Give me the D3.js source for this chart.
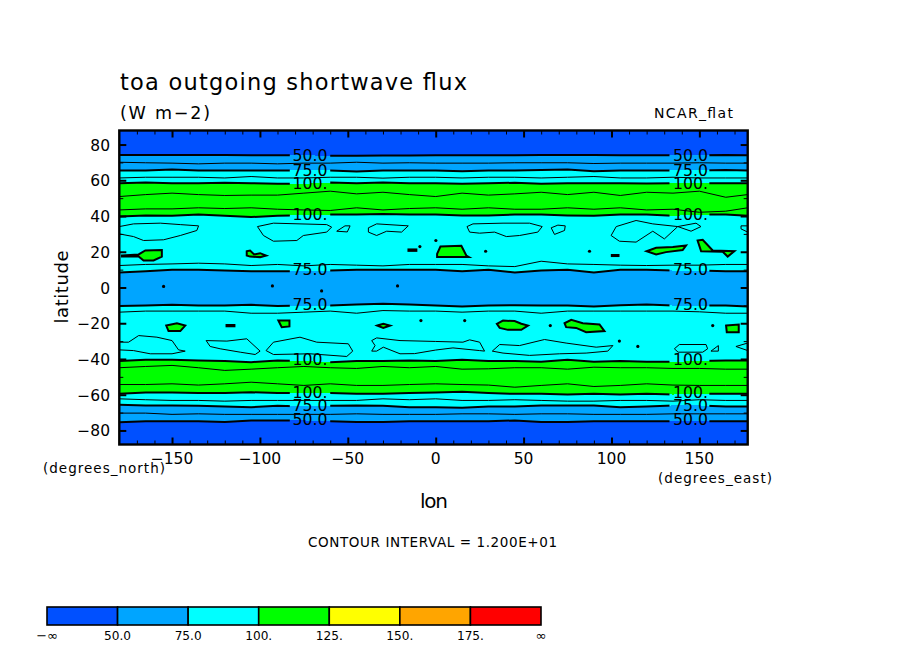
<!DOCTYPE html>
<html>
<head>
<meta charset="utf-8">
<script src="https://cdn.jsdelivr.net/npm/d3@7"></script>
<style>
  html, body { margin: 0; padding: 0; background: #fff; }
  text { font-family: "DejaVu Sans", sans-serif; fill: #000; }
</style>
</head>
<body>
<div id="chart"></div>
<script>
// Longitudes the latitude of every contour line is read at
const lonGrid = [-180,-165,-150,-135,-120,-105,-90,-75,-60,-45,-30,-15,0,15,30,45,60,75,90,105,120,135,150,165,177.5];

// Band contours (thick), north to south
const north50  = [74.2,74.2,74.2,74.2,74.2,74,74,74,73.7,73.7,73.8,73.8,74,74,74,74,74.2,74.2,74.2,74,74,74,74,74.2,74];
const north75  = [65.5,65.5,66,65.5,65.5,65.5,65.5,65.5,65.5,64.9,65.5,65.5,65.5,65.1,65.5,65.5,65.8,66,65.1,65.5,65.5,65.5,65.5,65.8,65.5];
const north100 = [58.4,58.7,58.4,58.4,58.6,58.4,58,58,58.7,58.4,58.7,58.4,58.4,58,58.4,58.6,58,58.4,58.4,58.4,58.2,58.4,58.4,58.4,58.4];
const mid100n  = [39.7,40.3,40.1,40.8,40.1,39.4,40.1,40.5,40.8,40.8,41.2,40.8,40.8,40.3,40.3,40.8,40.8,40.3,40.1,40.8,40.8,40.1,40.8,40.8,40.1];
const mid75n   = [8.4,9.1,9.9,9.9,9.5,9.1,9.1,9.1,9.5,9.9,9.9,9.9,9.9,9.1,9.9,8.4,9.5,9.9,8.4,9.9,9.9,9.5,9.5,9.1,9.1];
const mid75s   = [-10.4,-10.1,-9.7,-10.1,-10.1,-9.7,-10.4,-10.1,-10.1,-9.5,-9.1,-9.5,-10.1,-10.6,-10.1,-9.9,-10.1,-10.1,-10.6,-9.9,-9.5,-10.1,-10.1,-10.1,-10.6];
const mid100s  = [-41.2,-40.5,-40.5,-40.8,-41.2,-41.8,-40.8,-41.2,-41.8,-41.2,-41.2,-40.8,-41.2,-40.5,-41.2,-41.2,-41.6,-40.5,-41.6,-41.2,-41.6,-41.6,-41.2,-40.8,-40.8];
const south100 = [-59.5,-58.8,-58.8,-59.1,-59.1,-58.6,-59.1,-59.1,-59.1,-59.5,-59.5,-59.1,-58.8,-58.4,-59.1,-59.5,-59.5,-59.9,-59.5,-59.9,-59.5,-59.9,-59.5,-59.5,-59.5];
const south75  = [-65.6,-66,-66,-66.2,-66.6,-67,-66.2,-66.6,-66.2,-66,-66.2,-67,-67,-67.3,-66.6,-66.6,-66,-66,-66,-67,-66.6,-66,-66,-66.6,-66.6];
const south50  = [-75.4,-74.8,-74.8,-74.8,-75.2,-74.4,-74.4,-74.4,-74.8,-75.2,-75.2,-74.8,-74.8,-74.8,-74.8,-74.4,-75.2,-75.2,-74.8,-74.8,-74.8,-74.8,-74.8,-74.8,-74.8];

// Intermediate contours (thin)
const north62  = [70.1,69.8,69.6,69.2,69.6,69.6,69.2,69.6,69.6,70.1,69.6,69.8,69.6,69.6,69.6,69.8,69.8,69.8,69.4,69.6,69.6,69.6,69.8,69.6,69.6];
const north87  = [61.3,61.7,61.7,61.7,61.3,62.1,61.3,61.3,61.7,61.7,61.2,61.7,61.7,61.3,61.7,61.7,61.3,61.7,62.1,61.3,61.3,61.7,61.3,61.3,61.3];
const north112 = [50.9,52,52.8,52,51.5,51.7,51.7,52.8,53.9,52.4,53.3,52,50.9,52.8,51.7,52.4,53.3,52,53.3,51.5,53.3,52.8,53.9,50.5,52];
const mid112n  = [43.4,44,44,44.6,44.2,44.6,43.8,43.4,43.1,44.6,43.4,44.2,44.6,43.8,44.6,43.8,43.8,44.6,43.8,44.6,43.4,43.8,42.1,42.7,44.6];
const mid87n   = [12.3,12.9,13.2,13.6,13.2,12.3,12.9,12.1,12.9,12.5,12.1,12.9,12.9,12.9,12.1,11.7,14.7,13.2,12.9,12.5,12.3,12.5,12.5,12.9,12.9];
const mid87s   = [-13.8,-13.2,-13.2,-13.2,-13.2,-14.4,-14.4,-13.8,-13.2,-14.4,-12.9,-13.2,-13.2,-13.8,-13.2,-13.2,-14.4,-13.2,-13.2,-13.2,-13.2,-13.2,-13.6,-14.4,-14.4];
const mid112s  = [-44.9,-44.2,-43.6,-44.9,-46.4,-45.7,-44.9,-44.2,-44.9,-45.3,-44.2,-44.9,-44.2,-45.7,-45.5,-44.9,-44.9,-45.7,-44.6,-44.9,-44.9,-45.3,-45.3,-45.7,-45.7];
const south112 = [-54.3,-54.3,-53.9,-54.6,-53.9,-53,-53.9,-54.8,-53.9,-54.8,-54.8,-54.3,-53.9,-54.3,-54.6,-55.8,-54.8,-53.9,-55.4,-54.8,-53.9,-54.6,-54.8,-54.8,-54.8];
const south87  = [-62.3,-62.8,-63.2,-63.2,-63.6,-63.2,-63.2,-63.2,-63.2,-63.2,-62.3,-62.8,-62.3,-63.2,-63.2,-62.8,-63.2,-63.6,-63.6,-63.2,-63.2,-63.6,-62.8,-63.2,-63.2];
const south62  = [-70.3,-70.3,-71,-70.7,-71,-71,-71,-71,-71,-70.7,-71,-71,-71,-70.7,-70.7,-71,-70.7,-70.7,-71,-71,-71,-70.7,-70.7,-70.7,-70.7];

// Green closed areas above 100, as [lon, lat] rings
const greenIslands = [
  [[-178.5,17.9],[-169,18.5],[-165.2,20.7],[-155.8,21],[-155.8,17.3],[-160.5,15.1],[-166.2,15.1],[-169,17.3],[-178.5,17.3]],
  [[-107.5,20.3],[-105.6,20.7],[-103.3,18.5],[-99.9,19.2],[-96.5,17.9],[-99.9,17],[-105.6,17.3],[-107.5,17.9]],
  [[0.8,18.8],[2.7,22.9],[14.6,23.3],[17.4,17.9],[18.9,17],[0.8,17]],
  [[120,20.3],[125.4,22.2],[134.9,22.6],[142.4,23.5],[140.5,21],[131,19.8],[125.4,18.5]],
  [[149,26.3],[151.9,26.7],[157.6,20.7],[169.9,20.3],[166.1,17.3],[163.3,20],[151,20.3]],
  [[-153.3,-21.3],[-147.2,-20],[-142.5,-21.3],[-145.3,-24.4],[-152,-24.4]],
  [[-89.5,-18.5],[-83.2,-18.5],[-83.2,-21.8],[-87.6,-22.2]],
  [[-33.2,-21.3],[-29.8,-20.3],[-26,-21.3],[-29.8,-22.6]],
  [[34.8,-20.3],[38.3,-18.5],[44.9,-18.8],[48.7,-20.3],[52.5,-21.3],[48.7,-23.7],[41.1,-23.7],[36.4,-22.6]],
  [[73.3,-20],[77.1,-18.1],[83.7,-20],[93.2,-20.7],[96,-24.4],[85.6,-25],[79.9,-22.6],[74.2,-22.2]],
  [[165.2,-21.3],[172.4,-20.7],[172.4,-25],[165.6,-25]]
];

// Elongated spots too small to show any fill
const blackBlobs = [
  [[-15.5,21.3],[-11,21.3],[-11,20.5],[-15.5,20.5]],
  [[100.2,18.2],[104,18.2],[104,17.6],[100.2,17.6]],
  [[-119,-21],[-114.5,-21],[-114.5,-21.7],[-119,-21.7]]
];

// Thin closed contours
const thinRings = [
  [[-180,34.1],[-171.9,35.6],[-156.7,36],[-145.3,35.2],[-134.9,34.5],[-135.9,31.9],[-145.3,29.1],[-154.8,26.7],[-166.2,26.3],[-171.9,28.5],[-180,30]],
  [[-101.4,34.1],[-92.3,36],[-77.2,35.6],[-62,35.2],[-59.2,33.8],[-62,31],[-75.3,29.1],[-79,26.3],[-92.3,25.9],[-98,29.1]],
  [[-56.3,31.5],[-51.6,34.5],[-48.7,34.5],[-50.3,31.1]],
  [[-38.3,33.4],[-33.6,35.6],[-15.6,34.5],[-19.4,31],[-27.9,31.5],[-33.6,29.1],[-38.3,31]],
  [[17.8,34.1],[21.2,35.6],[38.3,36],[53.4,36],[60.6,34.1],[58.1,31],[47.7,29.1],[40.2,28.5],[33.5,31],[25,30.4],[19.3,31]],
  [[65.7,33.4],[69.5,34.9],[73.7,34.5],[73.3,31.9],[67.6,29.7]],
  [[99.8,29.1],[102.7,34.1],[114,37.5],[123.5,35.6],[137.7,34.1],[148.1,36],[150.9,34.1],[145.3,31.5],[137.7,34.1],[130.1,27.2],[123.5,31.5],[114,25.4],[104.5,25.9]],
  [[177.5,34.5],[173.7,34.5],[173.7,32.8],[177.5,31]],
  [[-180,-30.6],[-174.7,-30.6],[-169,-26.9],[-158.6,-27.8],[-150,-29.7],[-146.3,-34.9],[-142.5,-35.6],[-150,-37.1],[-162.4,-37.1],[-171.9,-35.3],[-180,-34.9]],
  [[-130.6,-29.7],[-118.8,-30],[-107.5,-28.7],[-99.9,-35.6],[-102.7,-37.5],[-111.2,-36.2],[-122.6,-34.3],[-128.3,-33]],
  [[-96.5,-35.3],[-92.3,-30.6],[-77.2,-27.8],[-67.7,-30.6],[-49.7,-31.5],[-47.2,-35.6],[-50.6,-38.6],[-71.5,-37.1],[-92.3,-37.5]],
  [[-36.4,-29.7],[-33.6,-28.2],[-20.3,-29.7],[0,-30.2],[15.5,-30.6],[19.3,-29.3],[25,-30.6],[27.8,-35.6],[25,-35.3],[9.8,-33.8],[0,-35],[-12,-37],[-20.3,-37.1],[-29.8,-33.4],[-33.6,-35.6],[-36.4,-35.6],[-34.5,-32.5]],
  [[32.2,-35.6],[36.4,-31.9],[47.7,-32.5],[61.9,-29.1],[74.2,-31.1],[91.3,-33.4],[100.8,-32.5],[97.9,-35.6],[85.6,-36.7],[70.5,-37.1],[53.4,-38],[38.3,-36.7]],
  [[135.8,-34.3],[138.6,-31.9],[153.8,-31.9],[154.7,-34.3],[151.9,-36.2],[137.9,-36.2]],
  [[156.6,-35.6],[160.8,-32.5],[160.8,-35.6]],
  [[177.5,-31.1],[170.8,-33],[177.5,-35.3]]
];

// Tiny closed contours, [lon, lat]
const smallSpots = [
  [0.1,26.3],[-9,22.9],[28.4,20.3],[87.5,20.3],[-154.8,0.6],[-92.9,0.9],[-64.9,-1.9],[-21.7,0.9],
  [-8.4,-18.5],[16.5,-18.5],[65.2,-21.3],[157.6,-21.3],[104.5,-30],[115,-33]
];

const lineLabels = ['50.0','75.0','100.','100.','75.0','75.0','100.','100.','75.0','50.0'];
const labelLats = [74,65.5,58.6,41.2,10.2,-9.4,-40.2,-58.6,-66,-73.8];
const labelLons = [-71.5,145];
const labelGaps = [[-83,-60],[133,155.7]];

const lonTicks = [-150,-100,-50,0,50,100,150];
const lonMinorTicks = [-170,-160,-140,-130,-120,-110,-90,-80,-70,-60,-40,-30,-20,-10,10,20,30,40,60,70,80,90,110,120,130,140,160,170];
const latTicks = [80,60,40,20,0,-20,-40,-60,-80];
const latMinorTicks = [70,50,30,10,-10,-30,-50,-70];

const levelColors = ['#0050ff','#00a5ff','#00ffff','#00ff00','#ffff00','#ffa500','#ff0000'];
const legendLabels = ['\u2212\u221e','50.0','75.0','100.','125.','150.','175.','\u221e'];

const WIDTH = 904;
const HEIGHT = 654;

const xScale = d3.scaleLinear().domain([-180,177.5]).range([119.3,747.7]);
const yScale = d3.scaleLinear().domain([87.86,-87.86]).range([130.5,444.5]);

const svg = d3.select('#chart').append('svg')
  .attr('width', WIDTH).attr('height', HEIGHT)
  .style('display', 'block');

// Colour bands between the thick contours
const topEdge = lonGrid.map(() => yScale.domain()[0]);
const bottomEdge = lonGrid.map(() => yScale.domain()[1]);
const bands = [
  [topEdge, north50, 0], [north50, north75, 1], [north75, north100, 2],
  [north100, mid100n, 3], [mid100n, mid75n, 2], [mid75n, mid75s, 1],
  [mid75s, mid100s, 2], [mid100s, south100, 3], [south100, south75, 2],
  [south75, south50, 1], [south50, bottomEdge, 0]
];
const bandArea = (upper, lower) => d3.area()
  .x((d, i) => xScale(lonGrid[i]))
  .y0((d, i) => yScale(upper[i]))
  .y1((d, i) => yScale(lower[i]))(lonGrid);

svg.selectAll('path.band').data(bands).enter().append('path')
  .attr('class', 'band')
  .attr('d', d => bandArea(d[0], d[1]))
  .attr('fill', d => levelColors[d[2]])
  .attr('shape-rendering', 'crispEdges');

// Thick contours are broken where their labels sit
const clip = svg.append('clipPath').attr('id', 'labelGaps');
const gapEdges = [xScale.domain()[0]].concat(labelGaps.flat(), [xScale.domain()[1]]);
d3.range(0, gapEdges.length, 2).forEach(i => {
  clip.append('rect')
    .attr('x', xScale(gapEdges[i])).attr('y', yScale.range()[0])
    .attr('width', xScale(gapEdges[i + 1]) - xScale(gapEdges[i]))
    .attr('height', yScale.range()[1] - yScale.range()[0]);
});

const contourLine = lats => d3.line()
  .x((d, i) => xScale(lonGrid[i]))
  .y((d, i) => yScale(lats[i]))(lonGrid);

const thinLines = [north62, north87, north112, mid112n, mid87n, mid87s, mid112s, south112, south87, south62];
svg.selectAll('path.thin').data(thinLines).enter().append('path')
  .attr('class', 'thin')
  .attr('d', contourLine)
  .attr('fill', 'none').attr('stroke', '#000').attr('stroke-width', 1);

const thickLines = [north50, north75, north100, mid100n, mid75n, mid75s, mid100s, south100, south75, south50];
svg.selectAll('path.thick').data(thickLines).enter().append('path')
  .attr('class', 'thick')
  .attr('d', contourLine)
  .attr('clip-path', 'url(#labelGaps)')
  .attr('fill', 'none').attr('stroke', '#000').attr('stroke-width', 2);

// Closed contours
const ring = d3.line().x(d => xScale(d[0])).y(d => yScale(d[1])).curve(d3.curveLinearClosed);
const openRing = d3.line().x(d => xScale(d[0])).y(d => yScale(d[1]));

svg.selectAll('path.ring').data(thinRings).enter().append('path')
  .attr('class', 'ring')
  .attr('d', d => (d[0][0] === -180 || d[0][0] === 177.5) ? openRing(d) : ring(d))
  .attr('fill', 'none').attr('stroke', '#000').attr('stroke-width', 1);

svg.selectAll('path.island').data(greenIslands).enter().append('path')
  .attr('class', 'island')
  .attr('d', ring)
  .attr('fill', levelColors[3]).attr('stroke', '#000').attr('stroke-width', 2);

svg.selectAll('path.blob').data(blackBlobs).enter().append('path')
  .attr('class', 'blob')
  .attr('d', ring)
  .attr('fill', '#000').attr('stroke', '#000').attr('stroke-width', 2);

svg.selectAll('circle.spot').data(smallSpots).enter().append('circle')
  .attr('class', 'spot')
  .attr('cx', d => xScale(d[0])).attr('cy', d => yScale(d[1]))
  .attr('r', 1.6).attr('fill', '#000');

// Contour labels, one column on each side
labelLons.forEach(lon => {
  svg.selectAll(null).data(lineLabels).enter().append('text')
    .attr('x', xScale(lon))
    .attr('y', (d, i) => yScale(labelLats[i]) + 6)
    .attr('text-anchor', 'middle')
    .attr('font-size', 15)
    .attr('textLength', 35)
    .attr('lengthAdjust', 'spacingAndGlyphs')
    .text(d => d);
});

// Axes: ticks point inward on all four sides
function drawAxis(axis, tx, ty, minor) {
  const g = svg.append('g').attr('transform', 'translate(' + tx + ',' + ty + ')').call(axis);
  g.select('.domain').remove();
  g.selectAll('line').attr('stroke', '#000').attr('stroke-width', minor ? 1 : 2);
  g.selectAll('text').remove();
}
const plotLeft = xScale.range()[0], plotRight = xScale.range()[1];
const plotTop = yScale.range()[0], plotBottom = yScale.range()[1];

drawAxis(d3.axisBottom(xScale).tickValues(lonTicks).tickSizeOuter(0).tickSize(-7), 0, plotBottom);
drawAxis(d3.axisTop(xScale).tickValues(lonTicks).tickSizeOuter(0).tickSize(-7), 0, plotTop);
drawAxis(d3.axisBottom(xScale).tickValues(lonMinorTicks).tickSizeOuter(0).tickSize(-4), 0, plotBottom, true);
drawAxis(d3.axisTop(xScale).tickValues(lonMinorTicks).tickSizeOuter(0).tickSize(-4), 0, plotTop, true);
drawAxis(d3.axisLeft(yScale).tickValues(latTicks).tickSizeOuter(0).tickSize(-7), plotLeft, 0);
drawAxis(d3.axisRight(yScale).tickValues(latTicks).tickSizeOuter(0).tickSize(-7), plotRight, 0);
drawAxis(d3.axisLeft(yScale).tickValues(latMinorTicks).tickSizeOuter(0).tickSize(-4), plotLeft, 0, true);
drawAxis(d3.axisRight(yScale).tickValues(latMinorTicks).tickSizeOuter(0).tickSize(-4), plotRight, 0, true);

svg.append('rect')
  .attr('x', plotLeft).attr('y', plotTop)
  .attr('width', plotRight - plotLeft).attr('height', plotBottom - plotTop)
  .attr('fill', 'none').attr('stroke', '#000').attr('stroke-width', 2.4);

svg.selectAll('text.lonTick').data(lonTicks).enter().append('text')
  .attr('class', 'lonTick')
  .attr('x', d => xScale(d)).attr('y', 464)
  .attr('text-anchor', 'middle').attr('font-size', 15.5)
  .text(d => d3.format('d')(d));

svg.selectAll('text.latTick').data(latTicks).enter().append('text')
  .attr('class', 'latTick')
  .attr('x', 110).attr('y', d => yScale(d) + 6)
  .attr('text-anchor', 'end').attr('font-size', 15.5)
  .text(d => d3.format('d')(d));

// Titles and notes
function label(str, x, y, size, len, anchor) {
  return svg.append('text')
    .attr('x', x).attr('y', y)
    .attr('font-size', size)
    .attr('text-anchor', anchor || 'start')
    .attr('textLength', len)
    .text(str);
}
label('toa outgoing shortwave flux', 120, 90, 22.5, 347);
label('(W m\u22122)', 120, 119, 17.5, 90);
label('NCAR_flat', 654, 118, 14, 79);
label('(degrees_north)', 43, 473, 13.5, 122);
label('(degrees_east)', 658, 483, 13.5, 114);
label('lon', 420, 508, 20, 28);
label('CONTOUR INTERVAL = 1.200E+01', 308, 547, 13.5, 249);
label('latitude', 0, 0, 18, 73, 'middle')
  .attr('transform', 'translate(68,287) rotate(-90)');

// Colour bar
const legendX = d3.scaleBand().domain(d3.range(levelColors.length)).range([47,541]);
const legendTicks = d3.scalePoint().domain(d3.range(legendLabels.length)).range([47,541]);

svg.selectAll('rect.swatch').data(levelColors).enter().append('rect')
  .attr('class', 'swatch')
  .attr('x', (d, i) => legendX(i)).attr('y', 607)
  .attr('width', legendX.bandwidth()).attr('height', 18)
  .attr('fill', d => d)
  .attr('stroke', '#000').attr('stroke-width', 1.6);

svg.selectAll('text.swatchLabel').data(legendLabels).enter().append('text')
  .attr('class', 'swatchLabel')
  .attr('x', (d, i) => legendTicks(i)).attr('y', 640)
  .attr('text-anchor', 'middle')
  .attr('font-size', 13)
  .attr('textLength', d => d.length > 2 ? 27 : null)
  .attr('lengthAdjust', 'spacingAndGlyphs')
  .text(d => d);
</script>
</body>
</html>
